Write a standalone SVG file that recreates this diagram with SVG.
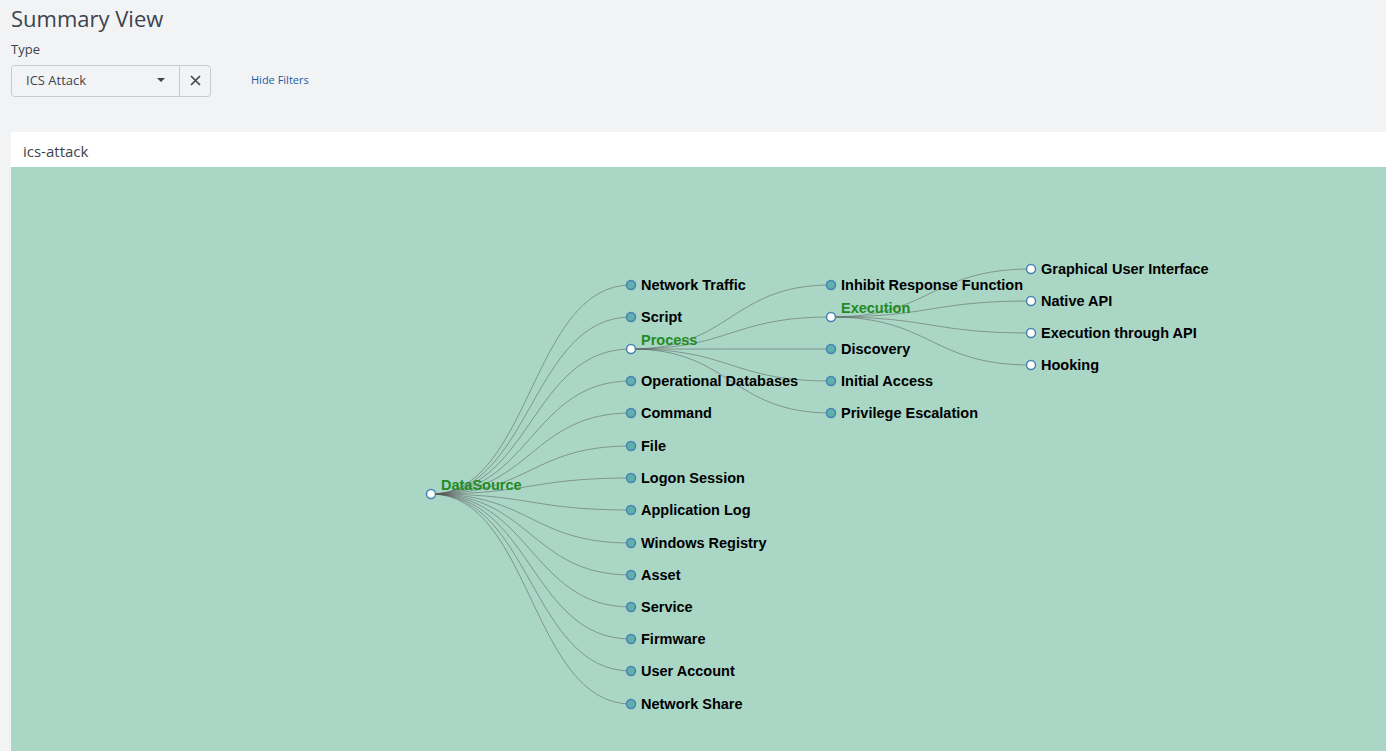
<svg xmlns="http://www.w3.org/2000/svg" width="1386" height="751" viewBox="0 0 1386 751">
<style>
.hdr{font-family:"Open Sans","Liberation Sans",sans-serif;fill:#3c444d}
.lk{fill:none;stroke:#555;stroke-opacity:.5;stroke-width:1}
.n circle{stroke:#4682b4;stroke-width:1.5;fill:#5fb0a8}
.n.e circle{fill:#fff}
.n text{font-family:"Liberation Sans",Arial,sans-serif;font-size:14.5px;font-weight:bold;fill:#000}
.n.e text{fill:#228b22}
</style>
<rect width="1386" height="751" fill="#f2f3f5"/>
<text class="hdr" x="11" y="27" font-size="22">Summary View</text>
<text class="hdr" x="11" y="54" font-size="13">Type</text>
<rect x="11.5" y="65.5" width="199" height="31" rx="3" fill="#f2f3f5" stroke="#c3cbd4"/>
<line x1="179.5" y1="66" x2="179.5" y2="96" stroke="#c3cbd4"/>
<text class="hdr" x="26" y="85" font-size="13" fill="#5c6773">ICS Attack</text>
<path d="M157 78h8l-4 4z" fill="#3c444d"/>
<path d="M191 76l9 9M200 76l-9 9" stroke="#3c444d" stroke-width="1.6"/>
<text x="251" y="84" font-family="Open Sans,Liberation Sans,sans-serif" font-size="11" fill="#1a5ea8">Hide Filters</text>
<rect x="11" y="132" width="1375" height="35" fill="#fff"/>
<text class="hdr" x="23" y="157" font-size="15">ics-attack</text>
<rect x="11" y="167" width="1375" height="584" fill="#aad6c6"/>
<g id="connectors">
<path class="lk" d="M431,494C531,494 531,285 631,285"/>
<path class="lk" d="M431,494C531,494 531,317 631,317"/>
<path class="lk" d="M431,494C531,494 531,349 631,349"/>
<path class="lk" d="M431,494C531,494 531,381 631,381"/>
<path class="lk" d="M431,494C531,494 531,413 631,413"/>
<path class="lk" d="M431,494C531,494 531,446 631,446"/>
<path class="lk" d="M431,494C531,494 531,478 631,478"/>
<path class="lk" d="M431,494C531,494 531,510 631,510"/>
<path class="lk" d="M431,494C531,494 531,543 631,543"/>
<path class="lk" d="M431,494C531,494 531,575 631,575"/>
<path class="lk" d="M431,494C531,494 531,607 631,607"/>
<path class="lk" d="M431,494C531,494 531,639 631,639"/>
<path class="lk" d="M431,494C531,494 531,671 631,671"/>
<path class="lk" d="M431,494C531,494 531,704 631,704"/>
<path class="lk" d="M631,349C731,349 731,285 831,285"/>
<path class="lk" d="M631,349C731,349 731,317 831,317"/>
<path class="lk" d="M631,349C731,349 731,349 831,349"/>
<path class="lk" d="M631,349C731,349 731,381 831,381"/>
<path class="lk" d="M631,349C731,349 731,413 831,413"/>
<path class="lk" d="M831,317C931,317 931,269 1031,269"/>
<path class="lk" d="M831,317C931,317 931,301 1031,301"/>
<path class="lk" d="M831,317C931,317 931,333 1031,333"/>
<path class="lk" d="M831,317C931,317 931,365 1031,365"/>
</g>
<g id="datasource" class="n e"><circle cx="431" cy="494" r="4.5"/><text x="441" y="490">DataSource</text></g>
<g id="network-traffic" class="n"><circle cx="631" cy="285" r="4.5"/><text x="641" y="290">Network Traffic</text></g>
<g id="script" class="n"><circle cx="631" cy="317" r="4.5"/><text x="641" y="322">Script</text></g>
<g id="process" class="n e"><circle cx="631" cy="349" r="4.5"/><text x="641" y="345">Process</text></g>
<g id="operational-databases" class="n"><circle cx="631" cy="381" r="4.5"/><text x="641" y="386">Operational Databases</text></g>
<g id="command" class="n"><circle cx="631" cy="413" r="4.5"/><text x="641" y="418">Command</text></g>
<g id="file" class="n"><circle cx="631" cy="446" r="4.5"/><text x="641" y="451">File</text></g>
<g id="logon-session" class="n"><circle cx="631" cy="478" r="4.5"/><text x="641" y="483">Logon Session</text></g>
<g id="application-log" class="n"><circle cx="631" cy="510" r="4.5"/><text x="641" y="515">Application Log</text></g>
<g id="windows-registry" class="n"><circle cx="631" cy="543" r="4.5"/><text x="641" y="548">Windows Registry</text></g>
<g id="asset" class="n"><circle cx="631" cy="575" r="4.5"/><text x="641" y="580">Asset</text></g>
<g id="service" class="n"><circle cx="631" cy="607" r="4.5"/><text x="641" y="612">Service</text></g>
<g id="firmware" class="n"><circle cx="631" cy="639" r="4.5"/><text x="641" y="644">Firmware</text></g>
<g id="user-account" class="n"><circle cx="631" cy="671" r="4.5"/><text x="641" y="676">User Account</text></g>
<g id="network-share" class="n"><circle cx="631" cy="704" r="4.5"/><text x="641" y="709">Network Share</text></g>
<g id="inhibit-response-function" class="n"><circle cx="831" cy="285" r="4.5"/><text x="841" y="290">Inhibit Response Function</text></g>
<g id="execution" class="n e"><circle cx="831" cy="317" r="4.5"/><text x="841" y="313">Execution</text></g>
<g id="discovery" class="n"><circle cx="831" cy="349" r="4.5"/><text x="841" y="354">Discovery</text></g>
<g id="initial-access" class="n"><circle cx="831" cy="381" r="4.5"/><text x="841" y="386">Initial Access</text></g>
<g id="privilege-escalation" class="n"><circle cx="831" cy="413" r="4.5"/><text x="841" y="418">Privilege Escalation</text></g>
<g id="gui" class="n e"><circle cx="1031" cy="269" r="4.5"/><text x="1041" y="274" style="fill:#000">Graphical User Interface</text></g>
<g id="native-api" class="n e"><circle cx="1031" cy="301" r="4.5"/><text x="1041" y="306" style="fill:#000">Native API</text></g>
<g id="execution-through-api" class="n e"><circle cx="1031" cy="333" r="4.5"/><text x="1041" y="338" style="fill:#000">Execution through API</text></g>
<g id="hooking" class="n e"><circle cx="1031" cy="365" r="4.5"/><text x="1041" y="370" style="fill:#000">Hooking</text></g>
</svg>
